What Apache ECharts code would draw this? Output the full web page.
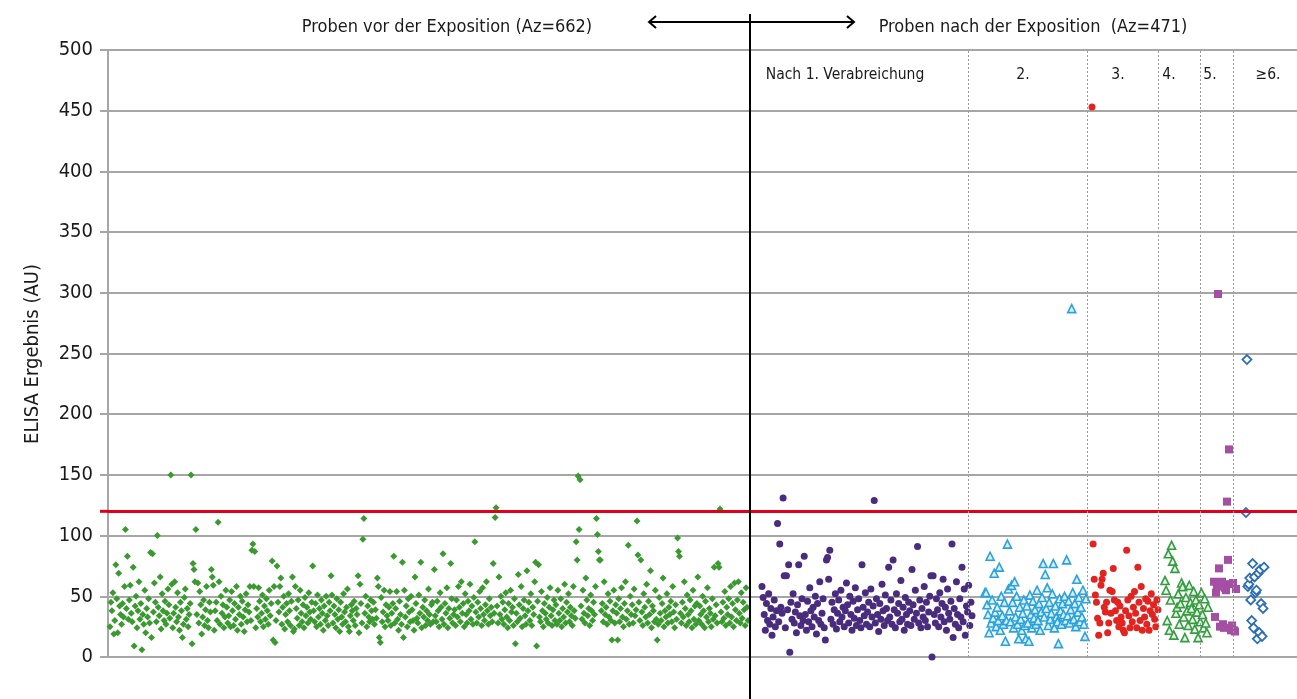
<!DOCTYPE html>
<html><head><meta charset="utf-8">
<script src="https://cdn.jsdelivr.net/npm/echarts@6/dist/echarts.min.js"></script>
<style>html,body{margin:0;padding:0;background:#fff}#c{width:1297px;height:699px}</style>
</head><body><div id="c"></div>
<script>
// ---------- DATA ----------
const yTickValues = [0,50,100,150,200,250,300,350,400,450,500];
const cutoff = 120;
const titleVor = 'Proben vor der Exposition (Az=662)';
const titleNach = 'Proben nach der Exposition  (Az=471)';
const yAxisTitle = 'ELISA Ergebnis (AU)';
const groupLabels = ['Nach 1. Verabreichung','2.','3.','4.','5.','≥6.'];

// Samples before exposure (green diamonds), in sample order
const vorExposition = [
25,45,38,53,19,30,76,48,20,69,42,35,27,44,33,58,105,40,83,31,47,
59,36,29,74,9,42,50,24,38,62,31,44,6,35,27,55,20,40,33,48,28,
86,16,85,37,61,45,29,100,41,34,66,23,52,38,30,46,27,36,56,43,32,
150,60,24,36,62,41,29,53,33,22,45,38,16,27,49,56,31,40,25,35,44,
150,11,77,72,62,105,35,61,28,54,43,19,33,47,26,39,58,30,24,45,37,
72,66,59,22,38,45,30,111,62,27,50,36,43,24,33,55,41,28,34,47,25,
54,38,26,44,31,58,22,41,35,50,27,46,33,21,39,52,29,43,37,58,30,
88,93,58,87,24,40,33,57,46,29,36,51,25,42,31,48,38,27,55,34,44,
79,14,58,12,30,75,45,37,58,65,27,41,50,23,35,44,29,52,38,26,46,
66,21,23,58,40,32,47,26,55,36,29,43,24,49,34,41,28,53,37,31,45,
75,38,29,44,25,51,33,40,27,47,36,22,42,30,50,34,26,45,38,67,51,
28,42,35,24,48,31,39,21,45,33,27,52,37,29,41,56,25,21,34,43,38,
30,46,26,40,35,67,20,60,44,28,97,114,36,50,25,42,33,29,47,38,31,
45,27,39,32,65,58,16,12,49,29,37,55,25,43,34,30,41,54,26,36,44,
83,28,40,54,31,22,46,35,27,78,16,55,33,42,25,48,37,29,50,39,30,
22,66,44,32,28,51,36,78,24,41,33,47,26,38,30,56,35,27,43,45,29,
72,34,29,46,38,25,53,41,31,85,27,44,36,57,24,40,32,77,48,28,35,
39,26,47,33,58,41,29,62,36,44,25,52,35,28,46,38,60,31,42,27,49,
95,37,28,45,33,54,40,26,57,35,30,43,62,38,27,48,34,41,29,77,36,
115,123,42,28,66,35,50,31,45,27,39,53,33,24,44,30,55,37,41,26,48,
11,36,29,68,43,32,58,25,40,47,34,27,71,38,45,30,52,26,41,35,62,
78,9,46,76,33,29,54,38,25,44,36,31,49,28,41,57,34,26,39,47,30,
43,27,55,36,30,48,25,40,33,60,28,45,37,52,29,41,34,26,58,38,32,
95,80,149,105,146,42,31,55,36,28,65,47,34,40,26,51,38,30,45,35,58,
114,101,87,80,80,38,44,29,62,35,41,27,52,33,46,30,14,38,55,28,43,
36,14,48,29,40,57,33,25,44,62,31,38,92,27,50,35,43,28,56,34,39,
112,84,45,30,80,37,26,52,41,33,60,28,46,35,71,24,42,38,29,55,31,
14,27,49,36,30,44,65,25,38,33,52,28,41,35,46,29,58,37,24,43,31,
98,87,83,36,28,45,33,62,40,26,51,35,29,47,38,24,55,31,42,27,44,
66,30,42,35,27,50,38,24,46,33,57,29,40,36,25,48,31,74,34,43,28,
77,74,122,37,29,45,32,54,26,41,35,48,28,58,33,44,25,61,39,30,47,
62,36,28,53,32,45,39,26,57,41,30
];
// Samples after exposure, by number of administrations
const nach1 = [
58,49,35,22,44,30,52,27,40,18,33,47,25,38,110,29,93,41,36,
131,67,24,67,39,76,4,45,31,52,28,37,20,43,76,34,26,48,30,
83,35,22,46,29,57,38,25,41,33,50,19,44,30,62,27,36,48,24,
14,80,82,64,88,31,45,27,39,52,23,36,47,29,55,33,41,25,38,
61,43,28,50,35,22,46,32,57,26,39,48,30,24,76,41,34,53,27,
37,45,25,56,33,42,129,28,48,35,21,44,31,60,38,26,51,40,30,
74,33,47,27,80,39,24,52,36,44,29,63,31,41,22,49,35,27,45,
38,26,72,43,31,55,36,91,28,47,24,40,33,58,30,45,25,37,50,
67,0,67,35,28,48,39,25,53,33,44,64,29,41,22,56,36,31,46,
93,16,40,27,62,35,24,48,33,74,29,56,18,42,37,59,26,45,34
];
const nach2 = [
53,53,43,35,20,83,28,47,32,69,37,25,41,30,74,22,50,34,27,45,
13,30,93,56,38,29,59,45,24,62,33,50,27,15,41,31,22,36,47,26,
15,42,28,13,51,35,24,46,32,39,27,55,30,44,22,37,49,77,33,68,
40,57,26,45,31,36,52,77,24,42,33,29,11,48,38,27,44,35,50,30,
80,34,46,28,39,287,53,31,44,25,64,37,49,29,41,33,55,27,17,48
];
const nach3 = [453,93,64,51,45,32,18,28,59,64,69,41,37,45,20,28,55,36,54,73,47,38,30,45,25,42,33,28,22,20,38,88,47,34,24,50,29,41,54,36,24,74,45,30,58,22,40,33,48,27,46,22,38,52,35,43,31,25,47,39];
const nach4 = [63,55,30,85,22,47,92,79,18,73,36,41,52,27,44,61,58,33,16,49,38,26,59,45,40,31,54,23,47,37,16,43,29,53,35,24,48,28,20,41];
const nach5 = [62,33,53,58,299,73,25,60,62,27,24,57,55,128,80,171,60,22,26,61,22,21,56];
const nach6plus = [119,245,58,60,65,47,30,77,24,66,53,55,15,69,20,72,44,17,40,74];

// ---------- LAYOUT (horizontal sample-order scale) ----------
const X_MAX = 1189;
const spans = {
  vor:[2,640], n1:[654,864], n2:[877,978], n3:[984,1050],
  n4:[1057,1100], n5:[1106,1128], n6:[1138,1156]
};
const splitX = 642;
const dividerX = [860,979,1050,1092,1125];
const groupLabelX = [737,915,1010,1061,1102,1160];

function place(vals, span){
  const [a,b] = span, n = vals.length;
  return vals.map((v,i)=>[a + (n>1 ? i*(b-a)/(n-1) : 0), v]);
}

const FONT = '"Liberation Sans Narrow","DejaVu Sans Condensed","Roboto Condensed",sans-serif';
const GRID = '#a6a6a6';

const chart = echarts.init(document.getElementById('c'), null, {renderer:'canvas'});

const series = [
  {name:'vor', type:'scatter', data:place(vorExposition, spans.vor), symbol:'diamond', symbolSize:7,
   itemStyle:{color:'#3a9a30', opacity:1},
   markLine:{silent:true, symbol:'none', label:{show:false}, animation:false,
     lineStyle:{color:'#e1001a', width:3, type:'solid'}, data:[{yAxis:cutoff}]}},
  {name:'n1', type:'scatter', data:place(nach1, spans.n1), symbol:'circle', symbolSize:7,
   itemStyle:{color:'#4a2c7e', opacity:1},
   markLine:{silent:true, symbol:'none', label:{show:false}, animation:false,
     lineStyle:{color:'#9a9a9a', width:1, type:[2,2]}, data:dividerX.map(x=>({xAxis:x}))}},
  {name:'n2', type:'scatter', data:place(nach2, spans.n2), symbol:'triangle', symbolSize:8,
   itemStyle:{color:'#d9eef9', borderColor:'#2aa3dc', borderWidth:1.6, opacity:1}},
  {name:'n3', type:'scatter', data:place(nach3, spans.n3), symbol:'circle', symbolSize:7,
   itemStyle:{color:'#e2231f', opacity:1}},
  {name:'n4', type:'scatter', data:place(nach4, spans.n4), symbol:'triangle', symbolSize:8,
   itemStyle:{color:'#e6f3e6', borderColor:'#359c40', borderWidth:1.6, opacity:1}},
  {name:'n5', type:'scatter', data:place(nach5, spans.n5), symbol:'rect', symbolSize:8,
   itemStyle:{color:'#a44fa3', opacity:1}},
  {name:'n6', type:'scatter', data:place(nach6plus, spans.n6), symbol:'diamond', symbolSize:9,
   itemStyle:{color:'#ffffff', borderColor:'#2c6db5', borderWidth:1.8, opacity:1}}
];

chart.setOption({
  animation:false,
  backgroundColor:'#fff',
  grid:{left:108, right:0, top:50, bottom:42, containLabel:false},
  xAxis:{type:'value', min:0, max:X_MAX, show:false},
  yAxis:{type:'value', min:yTickValues[0], max:yTickValues[yTickValues.length-1], interval:50,
    axisLine:{show:true, lineStyle:{color:GRID, width:2}},
    axisTick:{show:true, length:8, lineStyle:{color:GRID, width:2}},
    splitLine:{show:true, lineStyle:{color:GRID, width:2}},
    axisLabel:{fontFamily:FONT, fontSize:20, color:'#1a1a1a', margin:15}
  },
  series:series
});

// Annotations
const px = v => chart.convertToPixel({xAxisIndex:0}, v);
const py = v => chart.convertToPixel({yAxisIndex:0}, v);
const topY = py(500);
const graphic = [];
graphic.push({type:'line', shape:{x1:100, y1:py(cutoff), x2:px(0), y2:py(cutoff)}, style:{stroke:'#e1001a', lineWidth:3}, z:50});
graphic.push({type:'line', shape:{x1:px(splitX), y1:14, x2:px(splitX), y2:699},
  style:{stroke:'#000', lineWidth:2}, z:100});
graphic.push({type:'line', shape:{x1:649, y1:22, x2:854, y2:22}, style:{stroke:'#000', lineWidth:2}, z:100});
graphic.push({type:'polyline', shape:{points:[[656,16],[649,22],[656,28]]}, style:{stroke:'#000', lineWidth:2, fill:null}, z:100});
graphic.push({type:'polyline', shape:{points:[[847,16],[854,22],[847,28]]}, style:{stroke:'#000', lineWidth:2, fill:null}, z:100});
graphic.push({type:'text', x:447, y:27, style:{text:titleVor, fontFamily:FONT, fontSize:18, fill:'#1a1a1a', align:'center', verticalAlign:'middle'}});
graphic.push({type:'text', x:1033, y:27, style:{text:titleNach, fontFamily:FONT, fontSize:18, fill:'#1a1a1a', align:'center', verticalAlign:'middle'}});
graphic.push({type:'text', x:33, y:354, rotation:Math.PI/2, style:{text:yAxisTitle, fontFamily:FONT, fontSize:20, fill:'#1a1a1a', align:'center', verticalAlign:'middle'}});
groupLabels.forEach((t,i)=>{
  graphic.push({type:'text', x:px(groupLabelX[i]), y:topY+25, style:{text:t, fontFamily:FONT, fontSize:15.5, fill:'#1a1a1a', align:'center', verticalAlign:'middle'}});
});
chart.setOption({graphic:graphic});
</script>
</body></html>
